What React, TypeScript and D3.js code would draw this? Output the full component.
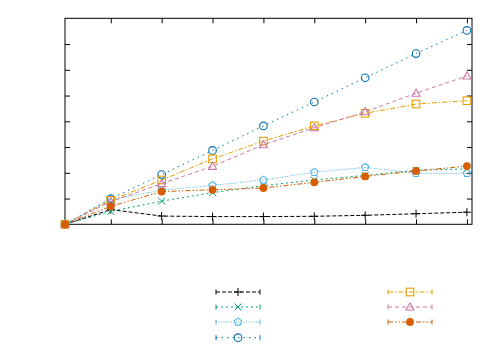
import React, { useEffect, useRef } from 'react';
import * as d3 from 'd3';

// x positions of the samples
const xValues = [1, 10, 20, 30, 40, 50, 60, 70, 80];
const xTicks = [10, 20, 30, 40, 50, 60, 70, 80];
const yTicks = [1, 2, 3, 4, 5, 6, 7];

// series values
const blackPlus = [0, 0.57, 0.32, 0.3, 0.3, 0.31, 0.35, 0.41, 0.47];
const greenCross = [0, 0.5, 0.9, 1.23, 1.5, 1.72, 1.9, 2.1, 2.15];
const skyPentagon = [0, 0.97, 1.32, 1.51, 1.72, 2.02, 2.21, 1.98, 1.98];
const blueCircle = [0, 1.0, 1.93, 2.87, 3.82, 4.75, 5.69, 6.63, 7.53];
const orangeSquare = [0, 0.93, 1.72, 2.54, 3.23, 3.82, 4.31, 4.67, 4.8];
const pinkTriangle = [0, 0.88, 1.58, 2.25, 3.09, 3.75, 4.37, 5.09, 5.76];
const redDot = [0, 0.7, 1.27, 1.34, 1.41, 1.63, 1.86, 2.07, 2.26];

const series = [
  { values: blackPlus, color: '#000000', dash: '4,2', marker: 'plus', col: 0, row: 0 },
  { values: greenCross, color: '#009E73', dash: '2,3', marker: 'cross', col: 0, row: 1 },
  { values: skyPentagon, color: '#56B4E9', dash: '1,1.5', marker: 'pentagon', col: 0, row: 2 },
  { values: blueCircle, color: '#0072B2', dash: '1.5,4', marker: 'circle', col: 0, row: 3 },
  { values: orangeSquare, color: '#E69F00', dash: '5,2,1.5,2', marker: 'square', col: 1, row: 0 },
  { values: pinkTriangle, color: '#CC79A7', dash: '4,3', marker: 'triangle', col: 1, row: 1 },
  { values: redDot, color: '#D55E00', dash: '5,2,1.5,2,1.5,2', marker: 'dot', col: 1, row: 2 },
];

const drawMarker = (g, type, cx, cy, color) => {
  const s = 4;
  if (type === 'plus') {
    g.append('path').attr('d', `M${cx - s},${cy}H${cx + s}M${cx},${cy - s}V${cy + s}`)
      .attr('stroke', color).attr('stroke-width', 1).attr('fill', 'none');
  } else if (type === 'cross') {
    g.append('path').attr('d', `M${cx - 3.5},${cy - 3.5}L${cx + 3.5},${cy + 3.5}M${cx - 3.5},${cy + 3.5}L${cx + 3.5},${cy - 3.5}`)
      .attr('stroke', color).attr('stroke-width', 1).attr('fill', 'none');
  } else if (type === 'circle') {
    g.append('circle').attr('cx', cx).attr('cy', cy).attr('r', 3.8)
      .attr('stroke', color).attr('stroke-width', 1.1).attr('fill', 'none');
  } else if (type === 'dot') {
    g.append('circle').attr('cx', cx).attr('cy', cy).attr('r', 3.9).attr('fill', color);
  } else if (type === 'square') {
    g.append('rect').attr('x', cx - 3.8).attr('y', cy - 3.8).attr('width', 7.6).attr('height', 7.6)
      .attr('stroke', color).attr('stroke-width', 1.1).attr('fill', 'none');
  } else if (type === 'triangle') {
    g.append('path').attr('d', `M${cx},${cy - 4.2}L${cx + 4},${cy + 3}L${cx - 4},${cy + 3}Z`)
      .attr('stroke', color).attr('stroke-width', 1.1).attr('fill', 'none');
  } else if (type === 'pentagon') {
    const pts = d3.range(5).map(i => {
      const a = -Math.PI / 2 + (i * 2 * Math.PI) / 5;
      return [cx + 3.9 * Math.cos(a), cy + 3.9 * Math.sin(a)];
    });
    g.append('path').attr('d', d3.line()(pts) + 'Z')
      .attr('stroke', color).attr('stroke-width', 1.1).attr('fill', 'none');
  }
};

const App = () => {
  const chartRef = useRef(null);

  useEffect(() => {
    const svg = d3.select(chartRef.current);
    svg.selectAll('*').remove();

    const left = 65, right = 472, top = 18.3, bottom = 224.3;
    const x = d3.scaleLinear().domain([1, 81]).range([left, right]);
    const y = d3.scaleLinear().domain([0, 8]).range([bottom, top]);

    // tick marks (inward, no labels)
    const tickStyle = sel => {
      sel.select('.domain').remove();
      sel.selectAll('text').remove();
      sel.selectAll('line').attr('stroke', '#000').attr('stroke-width', 1);
    };
    svg.append('g').attr('transform', `translate(0,${bottom})`)
      .call(d3.axisBottom(x).tickValues(xTicks).tickSize(-5).tickFormat(() => '')).call(tickStyle);
    svg.append('g').attr('transform', `translate(0,${top})`)
      .call(d3.axisTop(x).tickValues(xTicks).tickSize(-5).tickFormat(() => '')).call(tickStyle);
    svg.append('g').attr('transform', `translate(${left},0)`)
      .call(d3.axisLeft(y).tickValues(yTicks).tickSize(-5).tickFormat(() => '')).call(tickStyle);
    svg.append('g').attr('transform', `translate(${right},0)`)
      .call(d3.axisRight(y).tickValues(yTicks).tickSize(-5).tickFormat(() => '')).call(tickStyle);

    svg.append('rect').attr('x', left).attr('y', top)
      .attr('width', right - left).attr('height', bottom - top)
      .attr('fill', 'none').attr('stroke', '#000').attr('stroke-width', 1);

    const line = d3.line().x((d, i) => x(xValues[i])).y(d => y(d));

    series.forEach(s => {
      const g = svg.append('g');
      g.append('path').datum(s.values)
        .attr('fill', 'none').attr('stroke', s.color).attr('stroke-width', 1)
        .attr('stroke-dasharray', s.dash).attr('d', line);
      s.values.forEach((v, i) => drawMarker(g, s.marker, x(xValues[i]), y(v), s.color));
    });

    // legend (samples only, no labels)
    const legendX = [216, 388];
    const legendY = [292, 307, 322, 337.7];
    series.forEach(s => {
      const x0 = legendX[s.col], x1 = x0 + 44, ly = legendY[s.row];
      const g = svg.append('g');
      g.append('line').attr('x1', x0).attr('x2', x1).attr('y1', ly).attr('y2', ly)
        .attr('stroke', s.color).attr('stroke-width', 1).attr('stroke-dasharray', s.dash);
      g.append('path').attr('d', `M${x0},${ly - 2.5}V${ly + 2.5}M${x1},${ly - 2.5}V${ly + 2.5}`)
        .attr('stroke', s.color).attr('stroke-width', 1);
      drawMarker(g, s.marker, (x0 + x1) / 2, ly, s.color);
    });
  }, []);

  return (
    <svg ref={chartRef} width={500} height={350}
      style={{ position: 'absolute', left: 0, top: 0, background: '#fff' }} />
  );
};

export default App;
